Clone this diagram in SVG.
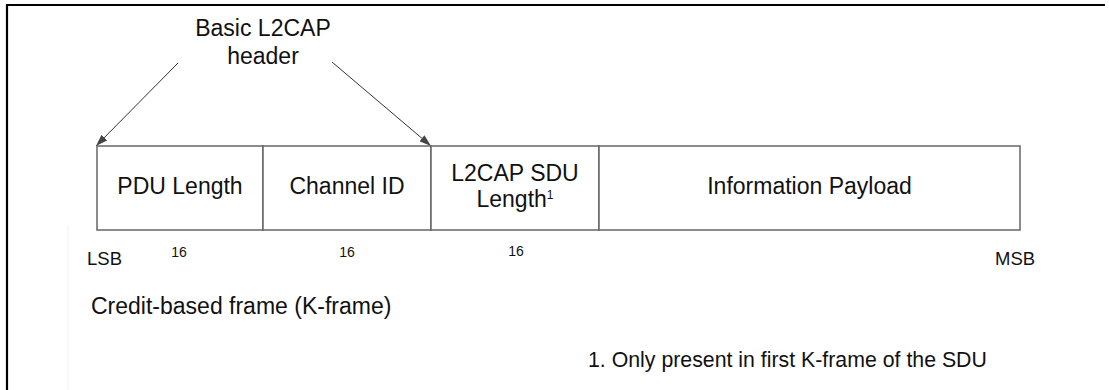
<svg xmlns="http://www.w3.org/2000/svg" width="1109" height="390" viewBox="0 0 1109 390">
<style>
text{font-family:"Liberation Sans",Arial,sans-serif;fill:#111}
.lbl{font-size:23px;text-anchor:middle}
.small{font-size:14px;text-anchor:middle}
.mid{font-size:18.5px}
.box{fill:#fff;stroke:#666;stroke-width:1.5}
.conn{stroke:#333;stroke-width:1;fill:none}
</style>
<defs>
<marker id="ah" viewBox="0 0 12 8" refX="12" refY="4" markerWidth="12" markerHeight="8" markerUnits="userSpaceOnUse" orient="auto">
<path d="M0,0 L12,4 L0,8 Z" fill="#444"/>
</marker>
</defs>
<rect width="1109" height="390" fill="#fff"/>
<line x1="68" y1="225" x2="68" y2="390" stroke="#f2f2f2" stroke-width="1"/>
<path d="M7,390 V5 H1105" fill="none" stroke="#000" stroke-width="2.2"/>
<g id="header-label">
<text class="lbl" x="263" y="36">Basic L2CAP</text>
<text class="lbl" x="263" y="64">header</text>
</g>
<g id="connectors">
<line class="conn" x1="178" y1="63" x2="96" y2="146" marker-end="url(#ah)"/>
<line class="conn" x1="332" y1="62" x2="431" y2="146" marker-end="url(#ah)"/>
</g>
<g id="pdu-length">
<rect class="box" x="97" y="146" width="166" height="84"/>
<text class="lbl" x="180" y="194">PDU Length</text>
</g>
<g id="channel-id">
<rect class="box" x="263" y="146" width="168" height="84"/>
<text class="lbl" x="347" y="194">Channel ID</text>
</g>
<g id="sdu-length">
<rect class="box" x="431" y="146" width="168" height="84"/>
<text class="lbl" x="515" y="181">L2CAP SDU</text>
<text class="lbl" x="515" y="207">Length<tspan font-size="12" dy="-8">1</tspan></text>
</g>
<g id="payload">
<rect class="box" x="599" y="146" width="421" height="84"/>
<text class="lbl" x="809.5" y="194">Information Payload</text>
</g>
<g id="bit-labels">
<text class="mid" x="87" y="265">LSB</text>
<text class="mid" x="995" y="265">MSB</text>
<text class="small" x="179" y="257">16</text>
<text class="small" x="347" y="257">16</text>
<text class="small" x="516" y="256">16</text>
</g>
<g id="caption">
<text style="font-size:23px" x="91" y="314">Credit-based frame (K-frame)</text>
</g>
<g id="footnote">
<text style="font-size:21.3px" x="588" y="367">1. Only present in first K-frame of the SDU</text>
</g>
</svg>
